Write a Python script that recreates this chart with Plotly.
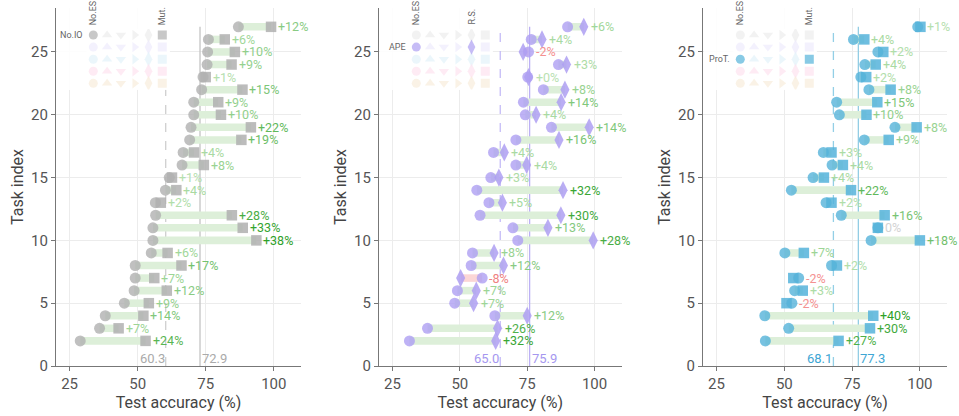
import plotly.graph_objects as go

# ---------------- data ----------------
TASKS = list(range(27, 1, -1))  # task index 27 .. 2

NOIO_START = [87.0, 76.0, 75.7, 75.5, 74.0, 73.5, 70.6, 70.6, 69.6, 69.1, 66.7, 66.3, 61.6,
              60.2, 56.5, 56.6, 55.6, 55.6, 55.0, 49.1, 49.1, 48.7, 45.1, 38.1, 36.0, 28.9]
NOIO_MUT = [99.0, 82.0, 85.7, 84.5, 75.0, 88.5, 79.6, 80.6, 91.6, 88.1, 70.7, 74.3, 62.6,
            64.2, 58.5, 84.6, 88.6, 93.6, 61.0, 66.1, 56.1, 60.7, 54.1, 52.1, 43.0, 52.9]

APE_START = [90.0, 76.5, 75.5, 86.6, 75.2, 81.0, 73.6, 74.3, 84.0, 70.8, 62.5, 70.8, 61.5,
             56.3, 60.8, 57.5, 69.7, 71.5, 54.7, 54.2, 58.3, 49.1, 48.1, 63.0, 38.0, 31.3]
APE_RS = [96.0, 80.5, 73.5, 89.6, 75.5, 89.0, 87.6, 78.3, 98.0, 86.8, 66.5, 74.8, 64.5,
          88.3, 65.8, 87.5, 82.7, 99.5, 62.7, 66.2, 50.3, 56.1, 55.1, 75.0, 64.0, 63.3]

PROT_START = [99.2, 75.5, 84.5, 79.7, 78.2, 81.2, 69.3, 70.3, 90.8, 79.5, 64.4, 67.6, 60.6,
              52.6, 65.4, 71.0, 84.5, 82.0, 50.2, 67.4, 55.3, 53.8, 52.8, 42.8, 51.6, 43.0]
PROT_MUT = [100.2, 79.5, 86.5, 83.7, 80.2, 89.2, 84.3, 80.3, 98.8, 88.5, 67.4, 71.6, 64.6,
            74.6, 67.4, 87.0, 84.5, 100.0, 57.2, 69.4, 53.3, 56.8, 50.8, 82.8, 81.6, 70.0]

MEAN_START = [60.3, 65.0, 68.1]
MEAN_END = [72.9, 75.9, 77.3]

METHODS = ["No.IO", "APE", "ProT."]
END_LABELS = ["Mut.", "R.S.", "Mut."]
X_TICKS = [25, 50, 75, 100]
Y_TICKS = [0, 5, 10, 15, 20, 25]
X_RANGE = [20, 110]
Y_RANGE = [0, 28.5]

# ---------------- style ----------------
FONT = "Roboto"
W, H = 959, 416
MT, MB = 8, 50
PLOT_H = H - MT - MB
LEFT_PX = [56, 379, 703]
RIGHT_PX = [301, 621.5, 947]

ROW_COLORS = ["#b0b0b0", "#ae9ff2", "#55b3da", "#f07ab8", "#e8b87e"]
ROW_FADED = ["#ededed", "#eeebfc", "#e2f2f9", "#fde2ef", "#f8ecdc"]
SYMBOLS = ["circle", "triangle-up", "triangle-down", "triangle-right", "diamond-tall", "square"]

PANEL_ROW = [0, 1, 2]
PANEL_END_COL = [5, 4, 5]
MEAN_LINE_COLORS = [("#cfcfcf", "#c4c4c4"), ("#c5bbf7", "#bcb0f5"), ("#93cfe6", "#93cde4")]
MEAN_TEXT_COLORS = ["#aaaaaa", "#a597ef", "#3ea6d4"]

BAR_POS = "#ddefd9"
BAR_NEG = "#fbd6d6"


def mix(c0, c1, t):
    return "rgb(%d,%d,%d)" % tuple(round(a + (b - a) * t) for a, b in zip(c0, c1))


def gain_label(g):
    g = round(g, 1)
    t = min(abs(g) / 35.0, 1.0)
    if g == 0:
        return "0%", "#d2d2d2"
    r = int(round(abs(g)))
    if g > 0:
        return "+%d%%" % r, mix((185, 226, 178), (45, 160, 40), t)
    return "-%d%%" % r, mix((245, 150, 150), (220, 60, 60), t)


fig = go.Figure()
annotations = []
shapes = []

data = [(NOIO_START, NOIO_MUT), (APE_START, APE_RS), (PROT_START, PROT_MUT)]

for p in range(3):
    xa = "x" if p == 0 else "x%d" % (p + 1)
    ya = "y" if p == 0 else "y%d" % (p + 1)
    start, end = data[p]
    diffs = [e - s for s, e in zip(start, end)]
    color = ROW_COLORS[PANEL_ROW[p]]
    end_sym = SYMBOLS[PANEL_END_COL[p]]

    # bars
    fig.add_trace(go.Bar(
        y=TASKS, x=diffs, base=start, orientation="h", width=0.6,
        marker=dict(color=[BAR_POS if d >= 0 else BAR_NEG for d in diffs], line=dict(width=0)),
        xaxis=xa, yaxis=ya, showlegend=False, hoverinfo="skip"))
    # end markers
    fig.add_trace(go.Scatter(
        x=end, y=TASKS, mode="markers", xaxis=xa, yaxis=ya, showlegend=False,
        marker=dict(symbol=end_sym, size=10.5 if end_sym == "square" else 13,
                    color=color, opacity=0.85, line=dict(width=0))))
    # start markers
    fig.add_trace(go.Scatter(
        x=start, y=TASKS, mode="markers", xaxis=xa, yaxis=ya, showlegend=False,
        marker=dict(symbol="circle", size=11, color=color, opacity=0.8, line=dict(width=0))))

    # gain labels
    for t, s, e, d in zip(TASKS, start, end, diffs):
        txt, col = gain_label(d)
        annotations.append(dict(
            x=max(s, e), y=t, xref=xa, yref=ya, text=txt, showarrow=False,
            xanchor="left", yanchor="middle", xshift=6, borderpad=0,
            font=dict(family=FONT, size=12.5, color=col)))

    # mean lines (below the traces, above the grid)
    lc_s, lc_e = MEAN_LINE_COLORS[p]
    shapes.append(dict(type="line", layer="between", xref=xa, yref=ya,
                       x0=MEAN_START[p], x1=MEAN_START[p], y0=0, y1=max(TASKS),
                       line=dict(color=lc_s, width=1.3, dash="dash")))
    shapes.append(dict(type="line", layer="between", xref=xa, yref=ya,
                       x0=MEAN_END[p], x1=MEAN_END[p], y0=0, y1=max(TASKS),
                       line=dict(color=lc_e, width=1.3)))
    annotations.append(dict(x=MEAN_START[p], y=0, xref=xa, yref=ya, text="%.1f" % MEAN_START[p],
                            showarrow=False, xanchor="right", yanchor="bottom", xshift=0, yshift=-1,
                            borderpad=0, font=dict(family=FONT, size=13, color=MEAN_TEXT_COLORS[p])))
    annotations.append(dict(x=MEAN_END[p], y=0, xref=xa, yref=ya, text="%.1f" % MEAN_END[p],
                            showarrow=False, xanchor="left", yanchor="bottom", xshift=1, yshift=-1,
                            borderpad=0, font=dict(family=FONT, size=13, color=MEAN_TEXT_COLORS[p])))

    # legend background (covers the grid behind the legend block)
    pw = RIGHT_PX[p] - LEFT_PX[p]
    xspan = X_RANGE[1] - X_RANGE[0]
    yspan = Y_RANGE[1] - Y_RANGE[0]
    shapes.append(dict(type="rect", layer="between", xref=xa, yref=ya,
                       x0=X_RANGE[0] + 0.3, x1=X_RANGE[0] + xspan * 114 / pw,
                       y0=Y_RANGE[0] + yspan * (PLOT_H + MT - 90) / PLOT_H, y1=Y_RANGE[1],
                       fillcolor="rgba(255,255,255,0.88)", line=dict(width=0)))

    # legend grid on its own small axes
    lxa = "x%d" % (p + 4)
    lya = "y%d" % (p + 4)
    lx, ly, lsym, lcol = [], [], [], []
    hx, hy, hsym, hcol = [], [], [], []
    for r in range(5):
        for c in range(6):
            hi = (r == PANEL_ROW[p]) and (c == 0 or c == PANEL_END_COL[p])
            (hx if hi else lx).append(c)
            (hy if hi else ly).append(r)
            (hsym if hi else lsym).append(SYMBOLS[c])
            (hcol if hi else lcol).append(ROW_COLORS[r] if hi else ROW_FADED[r])
    fig.add_trace(go.Scatter(x=lx, y=ly, mode="markers", xaxis=lxa, yaxis=lya, showlegend=False,
                             hoverinfo="skip",
                             marker=dict(symbol=lsym, size=[11 if s == "diamond-tall" else 9 for s in lsym],
                                         color=lcol, line=dict(width=0))))
    fig.add_trace(go.Scatter(x=hx, y=hy, mode="markers", xaxis=lxa, yaxis=lya, showlegend=False,
                             hoverinfo="skip",
                             marker=dict(symbol=hsym, size=[11 if s == "diamond-tall" else 9 for s in hsym],
                                         color=hcol, line=dict(width=0))))
    annotations.append(dict(x=-0.5, y=PANEL_ROW[p], xref=lxa, yref=lya, text=METHODS[p], showarrow=False,
                            xanchor="right", yanchor="middle", xshift=-1,
                            font=dict(family=FONT, size=9, color="#666666")))
    for c, lab in [(0, "No.ES"), (PANEL_END_COL[p], END_LABELS[p])]:
        annotations.append(dict(x=c, y=-0.5, xref=lxa, yref=lya, text=lab, showarrow=False,
                                textangle=-90, xanchor="center", yanchor="bottom", yshift=2,
                                font=dict(family=FONT, size=9, color="#666666")))

layout = dict(
    width=W, height=H, margin=dict(l=0, r=0, t=MT, b=MB),
    plot_bgcolor="white", paper_bgcolor="white",
    barmode="overlay", showlegend=False,
    font=dict(family=FONT, color="#555555"),
    annotations=annotations, shapes=shapes,
)

for p in range(3):
    sx = "" if p == 0 else str(p + 1)
    layout["xaxis" + sx] = dict(
        domain=[LEFT_PX[p] / W, RIGHT_PX[p] / W], range=X_RANGE, anchor="y" + sx,
        tickvals=X_TICKS, showgrid=True, gridcolor="#ececec", gridwidth=1, zeroline=False,
        showline=True, linecolor="#777777", linewidth=1.3, ticks="outside", ticklen=4,
        tickcolor="#777777", tickfont=dict(family=FONT, size=15, color="#555555"),
        title=dict(text="Test accuracy (%)", font=dict(family=FONT, size=16, color="#444444"), standoff=0),
    )
    layout["yaxis" + sx] = dict(
        domain=[0, 1], range=Y_RANGE, anchor="x" + sx,
        tickvals=Y_TICKS, showgrid=True, gridcolor="#ececec", gridwidth=1, zeroline=False,
        showline=True, linecolor="#777777", linewidth=1.3, ticks="outside", ticklen=4,
        tickcolor="#777777", tickfont=dict(family=FONT, size=15, color="#555555"),
        title=dict(text="Task index", font=dict(family=FONT, size=16, color="#444444"), standoff=3),
    )
    # legend axes
    lx0 = LEFT_PX[p] + 30.4
    lx1 = LEFT_PX[p] + 113.2
    layout["xaxis%d" % (p + 4)] = dict(
        domain=[lx0 / W, lx1 / W], range=[-0.5, 5.5], anchor="y%d" % (p + 4),
        visible=False, fixedrange=True)
    layout["yaxis%d" % (p + 4)] = dict(
        domain=[(PLOT_H + MT - 89.4) / PLOT_H, (PLOT_H + MT - 29.0) / PLOT_H], range=[4.5, -0.5],
        anchor="x%d" % (p + 4), visible=False, fixedrange=True)

fig.update_layout(**layout)
fig.write_html("out.html")
